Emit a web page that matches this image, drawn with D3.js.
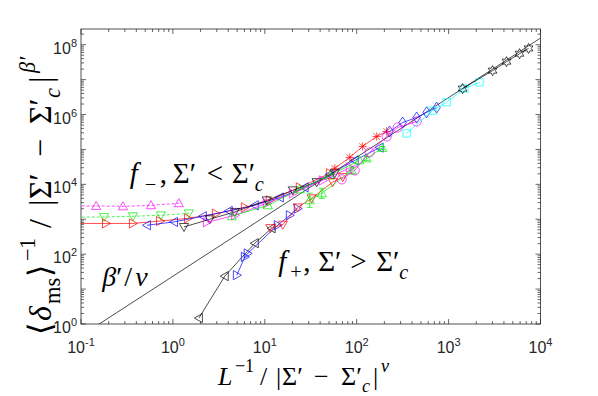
<!DOCTYPE html>
<html>
<head>
<meta charset="utf-8">
<title>scaling collapse</title>
<style>
  body { margin: 0; background: #fff; }
  svg { display: block; }
</style>
</head>
<body>
<script src="https://cdn.jsdelivr.net/npm/d3@7"></script>
<script>

// ---- data ----
// f- branch (Sigma' < Sigma'_c)
var magDashX = [0.07, 0.146, 0.286, 0.577, 1.16]
var magDashY = [2400, 2400, 2340, 2510, 2870]
var grnDashX = [0.07, 0.178, 0.367, 0.741, 1.49]
var grnDashY = [1150, 1160, 1220, 1300, 1480]
var redLowX = [0.07, 0.187, 0.367, 0.722, 1.46, 2.93, 6.06, 11.3, 24.0, 51.0]
var redLowY = [760, 760, 760, 890, 1060, 1440, 2200, 3490, 8200, 20800]
var bluLowX = [0.522, 1.03, 2.12, 4.06, 7.79, 14.6, 27.2, 50.9, 95.1, 178]
var bluLowY = [674, 840, 1220, 1730, 2510, 4220, 8200, 19300, 48500, 113000]
var blkLowX = [1.32, 2.52, 4.72, 10.5, 20.2, 36.7, 57.7]
var blkLowY = [603, 1000, 1630, 3490, 6740, 11600, 21000]
var magLowX = [2.34, 4.72, 10.5, 20.2, 42.7, 84.0]
var magLowY = [820, 1300, 2870, 5530, 13000, 30000]
var grnLowX = [4.38, 10.8, 24.0, 51.0, 107]
var grnLowY = [1220, 2510, 7200, 18000, 48500]
var redAstX = [57.7, 84.0, 116, 165, 212]
var redAstY = [28700, 59000, 122000, 235000, 327000]
var bluDiaX = [228, 316, 449, 577, 741]
var bluDiaY = [327000, 590000, 821000, 1160000, 1580000]

// f+ branch (Sigma' > Sigma'_c)
var blkUpX = [1.92, 3.67, 7.79, 11.9]
var blkUpY = [1.48, 23.5, 206, 553]
var bluUpX = [4.96, 6.06, 6.5, 13.8, 18.7, 22.8]
var bluUpY = [25.1, 83.7, 105, 674, 1300, 2020]
var redUpX = [11.5, 15.7, 22.8, 32.4, 54.8, 70.5]
var redUpY = [560, 700, 2200, 3980, 11600, 16200]
var grnUpX = [30.8, 41.7, 88.3, 128, 190]
var grnUpY = [3490, 5530, 25100, 55300, 110000]
var grnUpErr = [1.6, 1.4, 1.25, 1.15, 1.1]   // multiplicative error bar
var magCirX = [68.7, 95.1, 138, 212, 279, 449]
var magCirY = [13900, 25100, 82000, 235000, 425000, 631000]
var cyaSqX = [349, 670, 951, 1490, 2170]
var cyaSqY = [287000, 1300000, 2250000, 5530000, 8380000]
var blkStarX = [1420, 3010, 4270, 5910, 7410]
var blkStarY = [5530000, 18100000, 32700000, 55300000, 78300000]

// slope line beta'/nu
var slopeX = [0.1, 10000]
var slopeY = [0.46, 155000000]

var xTicks = [0.1, 1, 10, 100, 1000, 10000]
var xTickExp = ['-1', '0', '1', '2', '3', '4']
var yTicks = [1, 100, 10000, 1000000, 100000000]
var yTickExp = ['0', '2', '4', '6', '8']

var series = [
    {x: magDashX, y: magDashY, c: '#ff00ff', m: 'up', dash: '3,2'},
    {x: grnDashX, y: grnDashY, c: '#00ee00', m: 'down', dash: '3,2'},
    {x: redLowX, y: redLowY, c: '#ff0000', m: 'right'},
    {x: bluLowX, y: bluLowY, c: '#0000ff', m: 'left'},
    {x: blkLowX, y: blkLowY, c: '#000000', m: 'down'},
    {x: magLowX, y: magLowY, c: '#ff00ff', m: 'right'},
    {x: grnLowX, y: grnLowY, c: '#00ee00', m: 'up'},
    {x: redAstX, y: redAstY, c: '#ff0000', m: 'star'},
    {x: bluDiaX, y: bluDiaY, c: '#0000ff', m: 'diamond'},
    {x: blkUpX, y: blkUpY, c: '#000000', m: 'left'},
    {x: bluUpX, y: bluUpY, c: '#0000ff', m: 'right'},
    {x: redUpX, y: redUpY, c: '#ff0000', m: 'down'},
    {x: grnUpX, y: grnUpY, c: '#00ee00', m: 'up', err: grnUpErr},
    {x: magCirX, y: magCirY, c: '#ff00ff', m: 'circle'},
    {x: cyaSqX, y: cyaSqY, c: '#00ffff', m: 'square'},
    {x: blkStarX, y: blkStarY, c: '#000000', m: 'hexagram'}
]

// ---- layout ----
var W = 598, H = 396
var L = 81, R = 540.5, T = 29, B = 324
var axisColor = '#262626'
var serif = '"Liberation Serif", "DejaVu Serif", serif'
var sans = '"Liberation Sans", Arial, sans-serif'

var svg = d3.select('body').append('svg')
    .attr('width', W).attr('height', H)

var x = d3.scaleLog().domain([0.1, 1e4]).range([L, R])
var y = d3.scaleLog().domain([1, Math.pow(10, 8.45)]).range([B, T])

svg.append('clipPath').attr('id', 'plotclip')
    .append('rect').attr('x', L).attr('y', T).attr('width', R - L).attr('height', B - T)

var plot = svg.append('g').attr('clip-path', 'url(#plotclip)')

// marker shapes, s = half size
function markerPath(type, s) {
    var p
    if (type === 'up') p = [[0, -s], [s, s * 0.75], [-s, s * 0.75]]
    else if (type === 'down') p = [[0, s], [s, -s * 0.75], [-s, -s * 0.75]]
    else if (type === 'right') p = [[s, 0], [-s * 0.75, -s], [-s * 0.75, s]]
    else if (type === 'left') p = [[-s, 0], [s * 0.75, -s], [s * 0.75, s]]
    else if (type === 'diamond') p = [[0, -s * 1.2], [s * 0.8, 0], [0, s * 1.2], [-s * 0.8, 0]]
    else if (type === 'square') p = [[-s * 0.8, -s * 0.8], [s * 0.8, -s * 0.8], [s * 0.8, s * 0.8], [-s * 0.8, s * 0.8]]
    else if (type === 'hexagram') {
        p = []
        for (var k = 0; k < 12; k++) {
            var a = -Math.PI / 2 + k * Math.PI / 6
            var r = k % 2 === 0 ? s * 1.1 : s * 0.6
            p.push([r * Math.cos(a), r * Math.sin(a)])
        }
    }
    if (type === 'star') {
        var d = s * 0.7, h = s * 0.9
        return 'M0,' + (-h) + 'V' + h + 'M' + (-h) + ',0H' + h +
            'M' + (-d) + ',' + (-d) + 'L' + d + ',' + d + 'M' + (-d) + ',' + d + 'L' + d + ',' + (-d)
    }
    if (type === 'circle') {
        return 'M' + s + ',0A' + s + ',' + s + ' 0 1,1 ' + (-s) + ',0A' + s + ',' + s + ' 0 1,1 ' + s + ',0Z'
    }
    return 'M' + p.map(function(q){ return q[0].toFixed(2) + ',' + q[1].toFixed(2) }).join('L') + 'Z'
}

var line = d3.line()
    .x(function(d){ return x(d[0]) })
    .y(function(d){ return y(d[1]) })

// slope line
plot.append('path')
    .attr('d', line(d3.zip(slopeX, slopeY)))
    .attr('fill', 'none').attr('stroke', '#000').attr('stroke-width', 0.7)

series.forEach(function(sr){
    var pts = d3.zip(sr.x, sr.y)
    plot.append('path')
        .attr('d', line(pts))
        .attr('fill', 'none')
        .attr('stroke', sr.c)
        .attr('stroke-width', 0.7)
        .attr('stroke-dasharray', sr.dash || null)
    if (sr.err) {
        sr.err.forEach(function(e, i){
            var px = x(sr.x[i]), lo = y(sr.y[i] / e), hi = y(sr.y[i] * e)
            plot.append('path')
                .attr('d', 'M' + px + ',' + lo + 'V' + hi +
                    'M' + (px - 3) + ',' + lo + 'H' + (px + 3) +
                    'M' + (px - 3) + ',' + hi + 'H' + (px + 3))
                .attr('fill', 'none').attr('stroke', sr.c).attr('stroke-width', 0.7)
        })
    }
    plot.selectAll(null)
        .data(pts)
        .enter().append('path')
        .attr('transform', function(d){ return 'translate(' + x(d[0]) + ',' + y(d[1]) + ')' })
        .attr('d', markerPath(sr.m, 4.6))
        .attr('fill', 'none')
        .attr('stroke', sr.c)
        .attr('stroke-width', 0.7)
})

// ---- axes box with inward ticks ----
var axes = svg.append('g')
axes.append('rect')
    .attr('x', L).attr('y', T).attr('width', R - L).attr('height', B - T)
    .attr('fill', 'none').attr('stroke', axisColor).attr('stroke-width', 0.8)

function logTicks(lo, hi) {
    var out = []
    for (var e = Math.floor(Math.log10(lo)); e <= Math.ceil(Math.log10(hi)); e++) {
        for (var m = 1; m < 10; m++) {
            var v = m * Math.pow(10, e)
            if (v >= lo * 0.999 && v <= hi * 1.001) out.push({v: v, major: m === 1})
        }
    }
    return out
}

logTicks(0.1, 1e4).forEach(function(t){
    var px = x(t.v), len = t.major ? 5 : 3
    axes.append('line').attr('x1', px).attr('x2', px).attr('y1', B).attr('y2', B - len)
        .attr('stroke', axisColor).attr('stroke-width', 0.7)
    axes.append('line').attr('x1', px).attr('x2', px).attr('y1', T).attr('y2', T + len)
        .attr('stroke', axisColor).attr('stroke-width', 0.7)
})
logTicks(1, Math.pow(10, 8.45)).forEach(function(t){
    var py = y(t.v), len = t.major ? 5 : 3
    axes.append('line').attr('y1', py).attr('y2', py).attr('x1', L).attr('x2', L + len)
        .attr('stroke', axisColor).attr('stroke-width', 0.7)
    axes.append('line').attr('y1', py).attr('y2', py).attr('x1', R).attr('x2', R - len)
        .attr('stroke', axisColor).attr('stroke-width', 0.7)
})

// tick labels
xTicks.forEach(function(v, i){
    var t = axes.append('text')
        .attr('x', x(v)).attr('y', B + 29)
        .attr('text-anchor', 'middle')
        .attr('font-family', sans).attr('font-size', 16).attr('fill', axisColor)
    t.append('tspan').text('10')
    t.append('tspan').attr('font-size', 11).attr('dy', -7).text(xTickExp[i])
})
yTicks.forEach(function(v, i){
    var t = axes.append('text')
        .attr('x', L - 4).attr('y', y(v) + 9)
        .attr('text-anchor', 'end')
        .attr('font-family', sans).attr('font-size', 16).attr('fill', axisColor)
    t.append('tspan').text('10')
    t.append('tspan').attr('font-size', 11).attr('dy', -7).text(yTickExp[i])
})

// ---- math-like texts: each piece placed at an offset from the start ----
function mathText(g, parts, size, x0, y0) {
    var small = size * 0.7
    var t = g.append('text').attr('font-family', serif).attr('font-size', size).attr('fill', '#000')
    parts.forEach(function(p){
        var ts = t.append('tspan').text(p.s)
            .attr('x', x0 + p.at)
            .attr('y', y0 + (p.sub ? size * 0.27 : (p.sup ? -size * 0.5 : 0)))
        if (p.it) ts.attr('font-style', 'italic')
        if (p.sub || p.sup) ts.attr('font-size', small)
    })
    return t
}

// f-, Sigma' < Sigma'_c
mathText(svg, [
    {s: 'f', it: true, at: 0},
    {s: '\u2212', sub: true, at: 15},
    {s: ',', at: 30},
    {s: '\u03A3\u2032', at: 43},
    {s: '<', at: 77},
    {s: '\u03A3\u2032', at: 102},
    {s: 'c', it: true, sub: true, at: 125}
], 29, x(0.34), y(11000))

// f+, Sigma' > Sigma'_c
mathText(svg, [
    {s: 'f', it: true, at: 0},
    {s: '+', sub: true, at: 12},
    {s: ',', at: 25},
    {s: '\u03A3\u2032', at: 40},
    {s: '>', at: 72},
    {s: '\u03A3\u2032', at: 98},
    {s: 'c', it: true, sub: true, at: 121}
], 29, x(14.0), y(33))

// beta'/nu
mathText(svg, [
    {s: '\u03B2', it: true, at: 0},
    {s: '\u2032', at: 14},
    {s: '/', at: 22},
    {s: '\u03BD', it: true, at: 33}
], 28, x(0.17), y(12))

// x label
mathText(svg, [
    {s: 'L', it: true, at: 0},
    {s: '\u2212', sup: true, at: 17},
    {s: '1', sup: true, at: 27},
    {s: '/', at: 42},
    {s: '|', at: 58},
    {s: '\u03A3\u2032', at: 64},
    {s: '\u2212', at: 96},
    {s: '\u03A3\u2032', at: 123},
    {s: 'c', it: true, sub: true, at: 144},
    {s: '|', at: 155},
    {s: '\u03BD', it: true, sup: true, at: 163}
], 26, 218, 385)

// y label (rotated)
var ylab = svg.append('g').attr('transform', 'translate(51,335) rotate(-90)')
mathText(ylab, [
    {s: '\u27E8', at: 0},
    {s: '\u03B4', it: true, at: 14},
    {s: 'ms', sub: true, at: 31},
    {s: '\u27E9', at: 58},
    {s: '\u2212', sup: true, at: 74},
    {s: '1', sup: true, at: 86},
    {s: '/', at: 107},
    {s: '|', at: 129},
    {s: '\u03A3\u2032', at: 136},
    {s: '\u2212', at: 178},
    {s: '\u03A3\u2032', at: 211},
    {s: 'c', it: true, sub: true, at: 237},
    {s: '|', at: 252},
    {s: '\u03B2\u2032', it: true, sup: true, at: 262}
], 32, 0, 0)

</script>
</body>
</html>
